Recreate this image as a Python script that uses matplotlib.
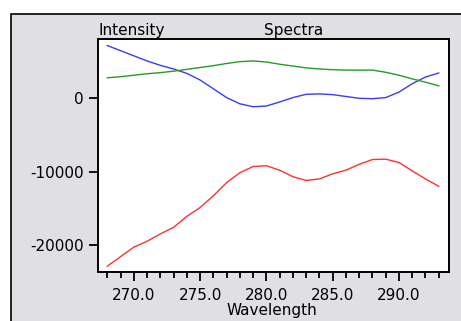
import matplotlib

matplotlib.use("Agg")
import matplotlib.pyplot as plt
from matplotlib.patches import Rectangle
from matplotlib.ticker import FixedLocator

# wavelength grid (nm) and the three spectra
WAVELENGTH = [268, 269, 270, 271, 272, 273, 274, 275, 276, 277, 278, 279, 280,
              281, 282, 283, 284, 285, 286, 287, 288, 289, 290, 291, 292, 293]
SPEC_BLUE = [7200, 6500, 5800, 5100, 4500, 4000, 3400, 2500, 1300, 100, -750,
             -1150, -1050, -500, 100, 550, 600, 500, 250, 0, -50, 100, 850,
             2000, 2900, 3450]
SPEC_GREEN = [2800, 2950, 3150, 3350, 3500, 3700, 3950, 4200, 4450, 4750, 5000,
              5100, 4950, 4650, 4400, 4150, 4000, 3900, 3850, 3850, 3850, 3550,
              3150, 2650, 2200, 1700]
SPEC_RED = [-22900, -21600, -20300, -19500, -18500, -17600, -16100, -14900,
            -13300, -11500, -10150, -9300, -9200, -9800, -10700, -11200, -11000,
            -10300, -9800, -9000, -8350, -8300, -8750, -9900, -11000, -12000]

X_TICKS = [270.0, 275.0, 280.0, 285.0, 290.0]
Y_TICKS = [0, -10000, -20000]

PANEL = "#e0dfe3"

fig = plt.figure(figsize=(4.61, 3.21), dpi=100)
fig.patch.set_facecolor("white")

# grey dialog-style panel behind the plot
panel = Rectangle((11 / 461, -0.05), 1.0, 1 - 14 / 321 + 0.05,
                  transform=fig.transFigure, facecolor=PANEL,
                  edgecolor="black", linewidth=1.2, zorder=-10)
fig.patches.append(panel)

ax = fig.add_axes([98 / 461, 1 - 271.7 / 321, (448.7 - 98) / 461, (271.7 - 39) / 321])
ax.set_zorder(5)
ax.set_facecolor("white")

ax.plot(WAVELENGTH, SPEC_BLUE, color="#3a3aff", linewidth=1.0)
ax.plot(WAVELENGTH, SPEC_GREEN, color="#279a27", linewidth=1.0)
ax.plot(WAVELENGTH, SPEC_RED, color="#ff3030", linewidth=1.0)

ax.set_xlim(267.3, 293.75)
ax.set_ylim(-23650, 8090)

ax.xaxis.set_major_locator(FixedLocator(X_TICKS))
ax.xaxis.set_minor_locator(FixedLocator(range(268, 294)))
ax.set_xticklabels([f"{t:.1f}" for t in X_TICKS])
ax.yaxis.set_major_locator(FixedLocator(Y_TICKS))
ax.set_yticklabels([str(t) for t in Y_TICKS])

ax.tick_params(axis="both", which="major", direction="out", length=6.5,
               width=1.3, labelsize=11, colors="black")
ax.tick_params(axis="x", which="major", pad=5)
ax.tick_params(axis="y", which="major", pad=3.5)
ax.tick_params(axis="x", which="minor", direction="out", length=4, width=1.3)
for sp in ax.spines.values():
    sp.set_linewidth(1.4)
    sp.set_color("black")

fig.text(98 / 461, 1 - 35 / 321, "Intensity", fontsize=11, ha="left", va="baseline")
fig.text(294 / 461, 1 - 35 / 321, "Spectra", fontsize=11, ha="center", va="baseline")
fig.text(272 / 461, 1 - 315.5 / 321, "Wavelength", fontsize=11, ha="center", va="baseline")

fig.savefig("out.png", dpi=100, facecolor=fig.get_facecolor())
